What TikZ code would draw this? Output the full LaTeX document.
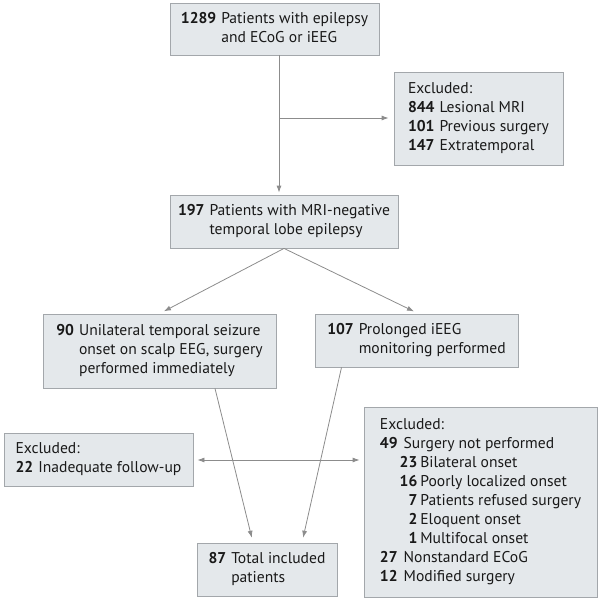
\documentclass[tikz,border=0pt]{standalone}
\usepackage{fontspec}
\setmainfont{PT Sans}
\usetikzlibrary{calc,arrows.meta}
\definecolor{boxfill}{HTML}{E4E8EB}
\definecolor{boxline}{HTML}{A3A7AB}
\definecolor{arrowgray}{HTML}{8C8C8C}
\tikzset{>={Latex[length=7pt,width=5pt]}}
\tikzset{box/.style={draw=boxline,fill=boxfill,line width=0.8pt,inner sep=0pt,
  font=\fontsize{15.6}{19}\selectfont,text=black!90}}
\tikzset{flow/.style={->,draw=arrowgray,line width=0.8pt,shorten >=5pt}}

\begin{document}
\begin{tikzpicture}[x=1pt,y=-1pt]
\useasboundingbox (0,0) rectangle (601,600);
\node[box,minimum width=209pt,minimum height=52pt] (n1289) at (274.5,29)
  {\begin{tabular}{@{}r@{\hspace{5pt}}l@{}}\textbf{1289} & Patients with epilepsy\\ & and ECoG or iEEG\end{tabular}};
\node[box,minimum width=169pt,minimum height=93pt] (ex1) at (478.5,118.5)
  {\begin{tabular}{@{}r@{\hspace{5pt}}l@{}}\multicolumn{2}{@{}l@{}}{Excluded:}\\
  \textbf{844} & Lesional MRI\\ \textbf{101} & Previous surgery\\ \textbf{147} & Extratemporal\end{tabular}};
\node[box,minimum width=228pt,minimum height=53pt] (n197) at (284,221.5)
  {\begin{tabular}{@{}r@{\hspace{5pt}}l@{}}\textbf{197} & Patients with MRI-negative\\ & temporal lobe epilepsy\end{tabular}};
\node[box,minimum width=233pt,minimum height=74pt] (n90) at (159.5,351)
  {\begin{tabular}{@{}r@{\hspace{5pt}}l@{}}\textbf{90} & Unilateral temporal seizure\\ & onset on scalp EEG, surgery\\ & performed immediately\end{tabular}};
\node[box,minimum width=203pt,minimum height=53pt] (n107) at (416.5,340.5)
  {\begin{tabular}{@{}r@{\hspace{5pt}}l@{}}\textbf{107} & Prolonged iEEG\\ & monitoring performed\end{tabular}};
\node[box,minimum width=189pt,minimum height=53pt] (ex22) at (98.5,459.5)
  {\begin{tabular}{@{}r@{\hspace{5pt}}l@{}}\multicolumn{2}{@{}l@{}}{Excluded:}\\
  \textbf{22} & Inadequate follow-up\end{tabular}};
\node[box,minimum width=233pt,minimum height=190pt] (ex49) at (480.5,502)
  {\begin{tabular}{@{}r@{\hspace{2pt}}r@{\hspace{3pt}}l@{}}\multicolumn{3}{@{}l@{}}{Excluded:}\\
  \textbf{49} & \multicolumn{2}{@{\hspace{4pt}}l@{}}{Surgery not performed}\\
  & \textbf{23} & Bilateral onset\\
  & \textbf{16} & Poorly localized onset\\
  & \textbf{7} & Patients refused surgery\\
  & \textbf{2} & Eloquent onset\\
  & \textbf{1} & Multifocal onset\\
  \textbf{27} & \multicolumn{2}{@{\hspace{4pt}}l@{}}{Nonstandard ECoG}\\
  \textbf{12} & \multicolumn{2}{@{\hspace{4pt}}l@{}}{Modified surgery}\end{tabular}};
\node[box,minimum width=140pt,minimum height=53pt] (n87) at (267,569.5)
  {\begin{tabular}{@{}r@{\hspace{5pt}}l@{}}\textbf{87} & Total included\\ & patients\end{tabular}};
\coordinate (trunk) at (279,118);
\coordinate (split) at (277,460);
\draw[flow,shorten >=2pt] (n1289.south -| trunk) -- (n197.north -| trunk);
\draw[flow] (trunk) -- (ex1.west |- trunk);
\draw[flow] (n197.south) -- (n90.north);
\draw[flow] (n197.south) -- ([xshift=2pt]n107.north);
\draw[flow] ([xshift=55.5pt]n90.south) -- ([xshift=-14pt]n87.north);
\draw[flow] ([xshift=-75pt]n107.south) -- ([xshift=35pt]n87.north);
\draw[flow,shorten >=4pt] (split) -- (ex22.east |- split);
\draw[flow,shorten >=4pt] (split) -- (ex49.west |- split);
\end{tikzpicture}
\end{document}
